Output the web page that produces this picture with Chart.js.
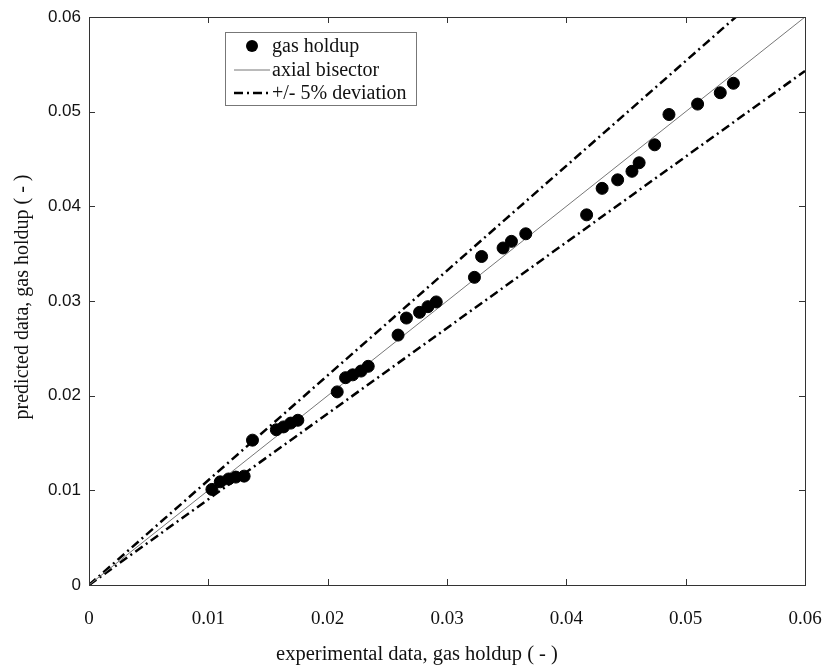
<!DOCTYPE html>
<html>
<head>
<meta charset="utf-8">
<script src="https://cdn.jsdelivr.net/npm/chart.js@4.4.1/dist/chart.umd.min.js"></script>
<style>
  html, body { margin: 0; padding: 0; background: #fff; }
  #wrap { width: 829px; height: 668px; }
</style>
</head>
<body>
<div id="wrap"><canvas id="chart" width="829" height="668"></canvas></div>
<script>
// experimental vs predicted gas holdup
const expData = [0.0103, 0.0110, 0.0117, 0.0123, 0.0130, 0.0137, 0.0157, 0.0163, 0.0169, 0.0175,
  0.0208, 0.0215, 0.0221, 0.0228, 0.0234, 0.0259, 0.0266, 0.0277, 0.0284, 0.0291,
  0.0323, 0.0329, 0.0347, 0.0354, 0.0366, 0.0417, 0.0430, 0.0443, 0.0455, 0.0461,
  0.0474, 0.0486, 0.0510, 0.0529, 0.0540];
const predData = [0.0101, 0.0109, 0.0112, 0.0114, 0.0115, 0.0153, 0.0164, 0.0167, 0.0171, 0.0174,
  0.0204, 0.0219, 0.0222, 0.0226, 0.0231, 0.0264, 0.0282, 0.0288, 0.0294, 0.0299,
  0.0325, 0.0347, 0.0356, 0.0363, 0.0371, 0.0391, 0.0419, 0.0428, 0.0437, 0.0446,
  0.0465, 0.0497, 0.0508, 0.0520, 0.0530];

// reference lines
const bisectorX = [0, 0.06];
const bisectorY = [0, 0.06];
const upperX = [0, 0.0542];
const upperY = [0, 0.06];
const lowerX = [0, 0.06];
const lowerY = [0, 0.0543];

const tickValues = [0, 0.01, 0.02, 0.03, 0.04, 0.05, 0.06];
const legendLabels = ["gas holdup", "axial bisector", "+/- 5% deviation"];
const xTitle = "experimental data, gas holdup ( - )";
const yTitle = "predicted data, gas holdup ( - )";

const serif = '"Liberation Serif", "Times New Roman", serif';
const sans = '"Liberation Sans", Arial, sans-serif';

const toPoints = (xs, ys) => xs.map((x, i) => ({ x: x, y: ys[i] }));
const fmt = (v) => (v === 0 ? "0" : v.toFixed(2));

// frame, inward ticks, axis titles and the boxed legend
const framePlugin = {
    id: "frame",
    afterDraw(chart) {
        const ctx = chart.ctx;
        const a = chart.chartArea;
        const xs = chart.scales.x;
        const ys = chart.scales.y;
        ctx.save();
        ctx.strokeStyle = "#333";
        ctx.lineWidth = 1;
        ctx.strokeRect(Math.round(a.left) + 0.5, Math.round(a.top) + 0.5,
            Math.round(a.right - a.left), Math.round(a.bottom - a.top));

        const len = 6;
        ctx.beginPath();
        tickValues.forEach((v) => {
            const px = Math.round(xs.getPixelForValue(v)) + 0.5;
            const py = Math.round(ys.getPixelForValue(v)) + 0.5;
            ctx.moveTo(px, a.bottom); ctx.lineTo(px, a.bottom - len);
            ctx.moveTo(px, a.top); ctx.lineTo(px, a.top + len);
            ctx.moveTo(a.left, py); ctx.lineTo(a.left + len, py);
            ctx.moveTo(a.right, py); ctx.lineTo(a.right - len, py);
        });
        ctx.stroke();

        // axis titles
        ctx.fillStyle = "#111";
        ctx.textAlign = "center";
        ctx.textBaseline = "middle";
        ctx.font = "20.5px " + serif;
        ctx.fillText(xTitle, 417, 655);
        ctx.save();
        ctx.translate(23, 297);
        ctx.rotate(-Math.PI / 2);
        ctx.font = "20px " + serif;
        ctx.fillText(yTitle, 0, 0);
        ctx.restore();

        // legend box
        const bx = 225, by = 32, bw = 191, bh = 73;
        ctx.fillStyle = "#fff";
        ctx.fillRect(bx, by, bw, bh);
        ctx.strokeStyle = "#777";
        ctx.strokeRect(bx + 0.5, by + 0.5, bw, bh);

        const ds = chart.data.datasets;
        const rows = [46, 70, 93];
        ctx.font = "20px " + serif;
        ctx.textAlign = "left";
        ds.slice(0, 3).forEach((d, i) => {
            const y = rows[i];
            if (i === 0) {
                ctx.fillStyle = d.backgroundColor;
                ctx.beginPath();
                ctx.arc(252, y, 6, 0, Math.PI * 2);
                ctx.fill();
            } else {
                ctx.strokeStyle = d.borderColor;
                ctx.lineWidth = d.borderWidth;
                ctx.setLineDash(d.borderDash || []);
                ctx.beginPath();
                ctx.moveTo(234, y);
                ctx.lineTo(270, y);
                ctx.stroke();
                ctx.setLineDash([]);
            }
            ctx.fillStyle = "#111";
            ctx.fillText(d.label, 272, y + 1);
        });
        ctx.restore();
    }
};

new Chart(document.getElementById("chart").getContext("2d"), {
    type: "scatter",
    data: {
        datasets: [
            {
                label: legendLabels[0],
                data: toPoints(expData, predData),
                backgroundColor: "#000",
                borderColor: "#000",
                pointRadius: 6,
                order: 0
            },
            {
                label: legendLabels[1],
                data: toPoints(bisectorX, bisectorY),
                showLine: true,
                borderColor: "#777",
                borderWidth: 1,
                pointRadius: 0,
                order: 1
            },
            {
                label: legendLabels[2],
                data: toPoints(upperX, upperY),
                showLine: true,
                borderColor: "#000",
                borderWidth: 2.5,
                borderDash: [9, 4, 2, 4],
                pointRadius: 0,
                order: 2
            },
            {
                label: "",
                data: toPoints(lowerX, lowerY),
                showLine: true,
                borderColor: "#000",
                borderWidth: 2.5,
                borderDash: [9, 4, 2, 4],
                pointRadius: 0,
                order: 2
            }
        ]
    },
    options: {
        responsive: false,
        animation: false,
        layout: { padding: { left: 0, right: 24, top: 17, bottom: 0 } },
        plugins: {
            legend: { display: false },
            tooltip: { enabled: false }
        },
        scales: {
            x: {
                type: "linear",
                min: 0,
                max: 0.06,
                afterBuildTicks: (s) => { s.ticks = tickValues.map((v) => ({ value: v })); },
                // fixed box so the plot area lands where the original's does
                afterFit: (s) => { s.height = 83; s.paddingLeft = 0; s.paddingRight = 0; },
                grid: { display: false, drawTicks: false },
                border: { display: false },
                ticks: {
                    color: "#111",
                    padding: 23,
                    maxRotation: 0,
                    font: { family: serif, size: 19 },
                    callback: fmt
                }
            },
            y: {
                type: "linear",
                min: 0,
                max: 0.06,
                afterBuildTicks: (s) => { s.ticks = tickValues.map((v) => ({ value: v })); },
                afterFit: (s) => { s.width = 89; s.paddingTop = 0; s.paddingBottom = 0; },
                grid: { display: false, drawTicks: false },
                border: { display: false },
                ticks: {
                    color: "#111",
                    padding: 8,
                    font: { family: sans, size: 17 },
                    callback: fmt
                }
            }
        }
    },
    plugins: [framePlugin]
});
</script>
</body>
</html>
